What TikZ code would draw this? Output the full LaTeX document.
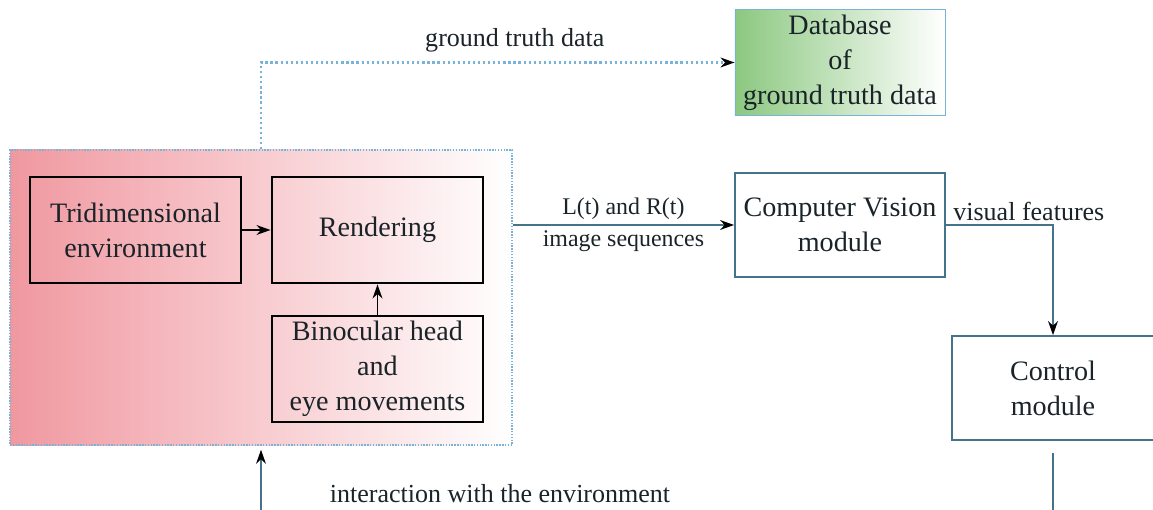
\documentclass[tikz,border=0pt]{standalone}
\usepackage{fontspec}
\setmainfont{Liberation Serif}
\usepackage{tikz}
\usetikzlibrary{arrows.meta}
\definecolor{simpink}{RGB}{240,152,160}
\definecolor{dbgreen}{RGB}{140,200,128}
\definecolor{dotblue}{RGB}{120,180,215}
\definecolor{modline}{RGB}{70,115,140}
\definecolor{txtdark}{RGB}{25,35,40}
\tikzset{>={Stealth[length=10pt,width=7pt,color=black]}}
\tikzset{%
    simbox/.style={draw=black,line width=2pt,minimum width=5.275cm,minimum height=2.65cm,
        align=center,text=txtdark,font=\fontsize{20}{25}\selectfont},
    modbox/.style={draw=modline,line width=1.2pt,minimum width=5.25cm,minimum height=2.6cm,
        align=center,text=txtdark,font=\fontsize{20}{25}\selectfont},
    lbl/.style={text=txtdark,font=\fontsize{18.5}{23}\selectfont,align=center},
    flow/.style={->,line width=1pt,draw=modline}
}

\begin{document}
\begin{tikzpicture}[x=0.025cm,y=-0.025cm]
	\useasboundingbox (0,0) rectangle (1153,510);

	% simulator part
	\node[draw=dotblue,densely dotted,line width=1pt,left color=simpink,right color=white,
		minimum width=12.55cm,minimum height=7.375cm] (env) at (261,297.5) {};
	\node[simbox] (tri) at (135.5,230) {Tridimensional\\environment};
	\node[simbox] (rend) at (377.5,230) {Rendering};
	\node[simbox] (bino) at (377.5,369) {Binocular head\\and\\eye movements};

	\draw[->,line width=1.4pt] (tri) -- (rend);
	\draw[->,line width=1.4pt] (bino) -- (rend);

	% database
	\node[modbox,draw=dotblue,line width=0.6pt,left color=dbgreen,right color=white,
		minimum height=2.625cm] (db) at (840,62.5) {Database\\of\\ground truth data};
	\draw[->,draw=dotblue,dotted,line width=1.6pt] (env.north) |-
		node[lbl,pos=0.768,above=3pt] {ground truth data} (db.west);

	% vision and control
	\node[modbox] (cv) at (840,225) {Computer Vision\\module};
	\node[modbox,minimum width=5.05cm] (ctrl) at (1053,388) {Control\\module};

	\draw[flow] (env.east |- cv.west) -- node[lbl,above,font=\fontsize{17}{21}\selectfont] {L(t) and R(t)}
		node[lbl,below,font=\fontsize{17}{21}\selectfont] {image sequences} (cv.west);
	\draw[flow] (cv.east) -| (ctrl.north);
	\node[lbl,anchor=base west,inner sep=0pt] (vf) at ([xshift=0.18cm,yshift=0.1cm]cv.east) {visual features};

	% feedback
	\coordinate (ctrlout) at (1053,510);
	\coordinate (envin) at (261,510);
	\draw[line width=1pt,draw=modline,shorten <=0.3cm] (ctrl.south) -- (ctrlout);
	\draw[flow,shorten >=0.1cm] (envin) -- (env.south);
	\node[lbl] (inter) at (500,494) {interaction with the environment};
\end{tikzpicture}
\end{document}
